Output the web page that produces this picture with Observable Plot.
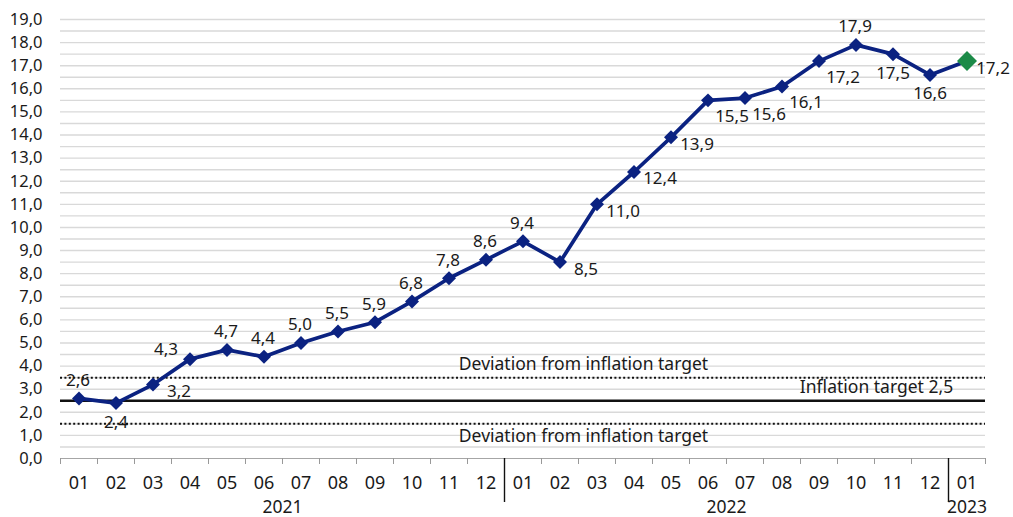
<!DOCTYPE html>
<html><head><meta charset="utf-8">
<script src="https://cdn.jsdelivr.net/npm/d3@7"></script>
<script src="https://cdn.jsdelivr.net/npm/@observablehq/plot@0.6"></script>
<style>
body{margin:0;background:#fff;}
#chart svg{font-family:"Noto Sans",sans-serif;color:#1a1a1a;}
</style>
</head><body><div id="chart"></div>
<script>
// ---- data ----
const months = ["01","02","03","04","05","06","07","08","09","10","11","12",
                "01","02","03","04","05","06","07","08","09","10","11","12",
                "01"];
const monthYears = ["2021","2021","2021","2021","2021","2021","2021","2021","2021","2021","2021","2021",
                    "2022","2022","2022","2022","2022","2022","2022","2022","2022","2022","2022","2022",
                    "2023"];
const values = [2.6, 2.4, 3.2, 4.3, 4.7, 4.4, 5.0, 5.5, 5.9, 6.8, 7.8, 8.6,
                9.4, 8.5, 11.0, 12.4, 13.9, 15.5, 15.6, 16.1, 17.2, 17.9, 17.5, 16.6,
                17.2];
const labelPlacement = ["above","below","right","aboveleft","above","above","above","above","above","above","above","above",
                        "above","right","right","right","right","belowright","belowright","belowright","belowright","above","below","below",
                        "right"];
const targetValue = 2.5;
const deviationBand = [1.5, 3.5];
const yTicks = d3.range(0, 20, 1);
const yGrid = d3.range(0.5, 19.5, 0.5);
const targetLabel = "Inflation target 2,5";
const deviationLabel = "Deviation from inflation target";

// ---- derived ----
const fmt = d => d.toFixed(1).replace(".", ",");
const data = values.map((v, i) => ({i, v, month: months[i], year: monthYears[i], pos: labelPlacement[i], last: i === values.length - 1}));
const boundaries = d3.range(months.length + 1).map(i => i - 0.5);
const separators = data.filter((d, i) => i > 0 && monthYears[i] !== monthYears[i - 1]).map(d => d.i - 0.5);
const yearNames = Array.from(new Set(monthYears));
const yearCenters = yearNames.map(y => d3.mean(data.filter(d => d.year === y), d => d.i));

const navy = "#0b2281";
const green = "#1b8a47";
const offsets = {
  above: {dx: -1, dy: -18},
  below: {dx: 0, dy: 19},
  right: {dx: 26, dy: 7},
  belowright: {dx: 24, dy: 16},
  aboveleft: {dx: -24, dy: -10}
};
const labelMarks = Object.entries(offsets).map(([k, o]) =>
  Plot.text(data.filter(d => d.pos === k), {x: "i", y: "v", text: d => fmt(d.v), dx: o.dx, dy: o.dy, fontSize: 17, fill: "#1a1a1a"})
);

const chart = Plot.plot({
  width: 1013,
  height: 517,
  marginLeft: 60,
  marginRight: 28,
  marginTop: 19,
  marginBottom: 59,
  x: {type: "linear", domain: [-0.5, months.length - 0.5]},
  y: {domain: [0, 19]},
  style: {fontSize: "16px", fontFamily: "'Noto Sans', sans-serif"},
  marks: [
    Plot.gridY(yGrid, {stroke: "#d9d9d9", strokeOpacity: 1, strokeWidth: 1.4}),
    Plot.ruleY(deviationBand, {stroke: "#111", strokeWidth: 2, strokeDasharray: "2,2.4"}),
    Plot.ruleY([targetValue], {stroke: "#111", strokeWidth: 2.5}),
    Plot.ruleY([0], {stroke: "#a6a6a6", strokeWidth: 1.2}),
    Plot.text([deviationLabel], {x: 13.5, y: deviationBand[1], dx: 5, dy: -13, fontSize: 17.5, fill: "#1a1a1a"}),
    Plot.text([deviationLabel], {x: 13.5, y: deviationBand[0], dx: 5, dy: 13, fontSize: 17.5, fill: "#1a1a1a"}),
    Plot.text([targetLabel], {x: 21.5, y: targetValue, dx: 2, dy: -13, fontSize: 17.5, fill: "#1a1a1a"}),
    Plot.line(data, {x: "i", y: "v", stroke: navy, strokeWidth: 3.7}),
    Plot.dot(data.filter(d => !d.last), {x: "i", y: "v", symbol: "diamond2", r: 6.3, fill: navy, stroke: "none"}),
    Plot.dot(data.filter(d => d.last), {x: "i", y: "v", symbol: "diamond2", r: 9, fill: green, stroke: "none"}),
    ...labelMarks,
    Plot.axisY({ticks: yTicks, tickSize: 0, tickPadding: 18, tickFormat: fmt, fontSize: 16.5, label: null}),
    Plot.axisX({ticks: d3.range(months.length), tickSize: 0, tickPadding: 18, tickFormat: i => months[i], fontSize: 18, label: null}),
    Plot.axisX({ticks: boundaries, tickSize: 6, tickFormat: () => "", stroke: "#999", label: null}),
    Plot.axisX({ticks: separators, tickSize: 44, tickFormat: () => "", stroke: "#111", strokeWidth: 1.4, label: null}),
    Plot.axisX({ticks: yearCenters, tickSize: 0, tickPadding: 42, tickFormat: (d, k) => yearNames[k], fontSize: 17.5, label: null})
  ]
});
document.getElementById("chart").append(chart);
</script>
</body></html>
